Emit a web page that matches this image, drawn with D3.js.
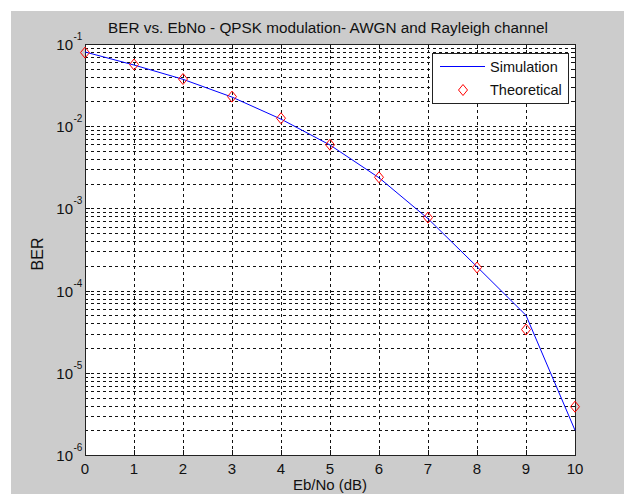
<!DOCTYPE html>
<html>
<head>
<meta charset="utf-8">
<script src="https://cdn.jsdelivr.net/npm/d3@7"></script>
<style>
  body { margin: 0; background: #fff; }
  text { font-family: "Liberation Sans", Arial, sans-serif; fill: #111; }
</style>
</head>
<body>
<script>

// Eb/No values (dB)
var ebno = [0, 1, 2, 3, 4, 5, 6, 7, 8, 9, 10];

// simulated BER (blue line)
var berSim = [0.080, 0.0555, 0.0372, 0.0226, 0.0122, 0.0059, 0.00236, 0.00075, 0.000195, 0.000050, 0.0000020];

// theoretical BER (red diamonds)
var berTheory = [0.0786, 0.0563, 0.0375, 0.0229, 0.0125, 0.00595, 0.00239, 0.000773, 0.000191, 0.0000336, 0.00000387];

var xTicks = [0, 1, 2, 3, 4, 5, 6, 7, 8, 9, 10];
var yExponents = [-6, -5, -4, -3, -2, -1];

var titleText = "BER vs. EbNo - QPSK modulation- AWGN and Rayleigh channel";
var xLabel = "Eb/No (dB)";
var yLabel = "BER";
var legendNames = ["Simulation", "Theoretical"];

function plot_it() {
    var W = 624, H = 494;
    var box = { left: 85, top: 44, right: 575, bottom: 455 };

    var svg = d3.select("body").append("svg")
        .attr("width", W)
        .attr("height", H);

    // figure background
    svg.append("rect").attr("x", 0).attr("y", 0).attr("width", W).attr("height", H).attr("fill", "#fff");
    svg.append("rect").attr("x", 11).attr("y", 11).attr("width", W - 11).attr("height", H - 11).attr("fill", "#cccccc");

    // axes area
    svg.append("rect")
        .attr("x", box.left).attr("y", box.top)
        .attr("width", box.right - box.left).attr("height", box.bottom - box.top)
        .attr("fill", "#fff");

    var x = d3.scaleLinear().domain([0, 10]).range([box.left, box.right]);
    var y = d3.scaleLog().domain([1e-6, 1e-1]).range([box.bottom, box.top]);

    var px = function (v) { return Math.round(v) + 0.5; };

    // grid lines
    var grid = svg.append("g").attr("stroke", "#111").attr("stroke-width", 1).attr("stroke-dasharray", "3,3");

    grid.selectAll(".vgrid").data(xTicks.slice(1, -1)).enter().append("line")
        .attr("x1", function (d) { return px(x(d)); })
        .attr("x2", function (d) { return px(x(d)); })
        .attr("y1", box.top).attr("y2", box.bottom);

    var yTickVals = y.ticks().filter(function (d) { return d > 1e-6 * 1.0001 && d < 1e-1 * 0.9999; });
    grid.selectAll(".hgrid").data(yTickVals).enter().append("line")
        .attr("y1", function (d) { return px(y(d)); })
        .attr("y2", function (d) { return px(y(d)); })
        .attr("x1", box.left).attr("x2", box.right);

    // tick marks, drawn inside on all four sides
    var ticks = svg.append("g").attr("stroke", "#111").attr("stroke-width", 1);
    xTicks.forEach(function (d) {
        ticks.append("line").attr("x1", px(x(d))).attr("x2", px(x(d))).attr("y1", box.bottom).attr("y2", box.bottom - 5);
        ticks.append("line").attr("x1", px(x(d))).attr("x2", px(x(d))).attr("y1", box.top).attr("y2", box.top + 5);
    });
    y.ticks().forEach(function (d) {
        var major = Math.abs(Math.log10(d) - Math.round(Math.log10(d))) < 1e-6;
        var len = major ? 5 : 3;
        ticks.append("line").attr("x1", box.left).attr("x2", box.left + len).attr("y1", px(y(d))).attr("y2", px(y(d)));
        ticks.append("line").attr("x1", box.right - len).attr("x2", box.right).attr("y1", px(y(d))).attr("y2", px(y(d)));
    });

    // axes box
    svg.append("rect")
        .attr("x", box.left + 0.5).attr("y", box.top + 0.5)
        .attr("width", box.right - box.left).attr("height", box.bottom - box.top)
        .attr("fill", "none").attr("stroke", "#222").attr("stroke-width", 1);

    // x tick labels
    svg.selectAll(".xlab").data(xTicks).enter().append("text")
        .attr("x", function (d) { return x(d); })
        .attr("y", 474)
        .attr("text-anchor", "middle")
        .attr("font-size", "15px")
        .text(function (d) { return d; });

    // y tick labels as 10^n
    yExponents.forEach(function (e) {
        var yy = y(Math.pow(10, e));
        svg.append("text").attr("x", 73).attr("y", yy + 6)
            .attr("text-anchor", "end").attr("font-size", "15px").text("10");
        svg.append("text").attr("x", 73.5).attr("y", yy - 4)
            .attr("font-size", "10px").text(e);
    });

    // title and axis labels
    svg.append("text").text(titleText)
        .attr("x", (box.left + box.right) / 2 - 2).attr("y", 33)
        .attr("text-anchor", "middle").attr("font-size", "15.3px");

    svg.append("text").text(xLabel)
        .attr("x", (box.left + box.right) / 2).attr("y", 490)
        .attr("text-anchor", "middle").attr("font-size", "15px");

    svg.append("text").text(yLabel)
        .attr("transform", "translate(" + 43 + "," + 254 + ") rotate(-90)")
        .attr("text-anchor", "middle").attr("font-size", "16px");

    // simulation line
    var line = d3.line()
        .x(function (d, i) { return x(ebno[i]); })
        .y(function (d) { return y(d); });

    svg.append("path").datum(berSim)
        .attr("d", line)
        .attr("fill", "none").attr("stroke", "#0000ff").attr("stroke-width", 1);

    // theoretical diamonds
    var diamond = function (cx, cy) {
        return "M" + cx + "," + (cy - 5.5) + "L" + (cx + 4.5) + "," + cy + "L" + cx + "," + (cy + 5.5) + "L" + (cx - 4.5) + "," + cy + "Z";
    };
    svg.selectAll(".theory").data(berTheory).enter().append("path")
        .attr("d", function (d, i) { return diamond(x(ebno[i]), y(d)); })
        .attr("fill", "none").attr("stroke", "#ff0000").attr("stroke-width", 1);

    // legend
    var legend = svg.append("g");
    legend.append("rect")
        .attr("x", 432.5).attr("y", 53.5).attr("width", 136).attr("height", 50)
        .attr("fill", "#fff").attr("stroke", "#222").attr("stroke-width", 1);
    legend.append("line")
        .attr("x1", 440).attr("x2", 485).attr("y1", 66.5).attr("y2", 66.5)
        .attr("stroke", "#0000ff").attr("stroke-width", 1);
    legend.append("path").attr("d", diamond(463, 90))
        .attr("fill", "none").attr("stroke", "#ff0000").attr("stroke-width", 1);
    legend.selectAll(".ltext").data(legendNames).enter().append("text")
        .attr("x", 490)
        .attr("y", function (d, i) { return 72 + 23 * i; })
        .attr("font-size", "14.5px")
        .text(function (d) { return d; });
}

plot_it();
</script>
</body>
</html>
